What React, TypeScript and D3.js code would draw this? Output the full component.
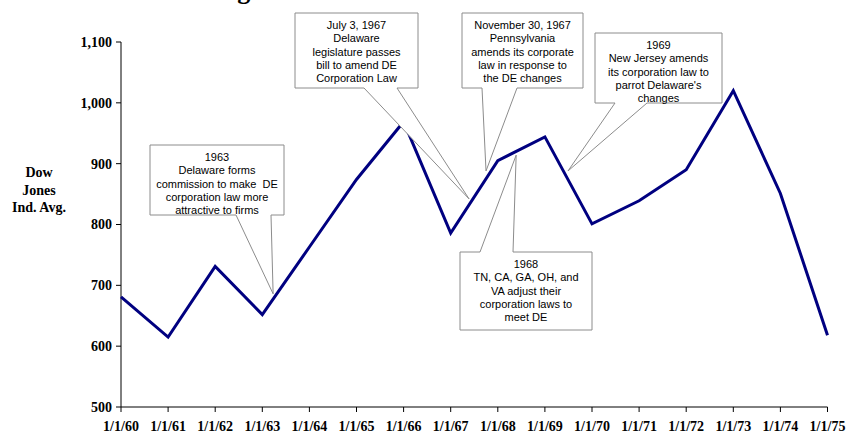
import React from 'react';
import * as d3 from 'd3';

// Dow Jones Industrial Average, first trading day of each year
const dates = ['1/1/60', '1/1/61', '1/1/62', '1/1/63', '1/1/64', '1/1/65', '1/1/66', '1/1/67',
  '1/1/68', '1/1/69', '1/1/70', '1/1/71', '1/1/72', '1/1/73', '1/1/74', '1/1/75'];
const dowValues = [681, 615, 731, 652, 763, 874, 969, 786, 905, 944, 801, 839, 890, 1020, 851, 618];
const yTicks = [500, 600, 700, 800, 900, 1000, 1100];

// annotations: tip given as (year index, index value)
const noteText = [
  ['1963', 'Delaware forms', 'commission to make\u00a0\u00a0DE', 'corporation law more', 'attractive to firms'],
  ['July 3, 1967', 'Delaware', 'legislature passes', 'bill to amend DE', 'Corporation Law'],
  ['November 30, 1967', 'Pennsylvania', 'amends its corporate', 'law in response to', 'the DE changes'],
  ['1969', 'New Jersey amends', 'its corporation law to', "parrot Delaware's", 'changes'],
  ['1968', 'TN, CA, GA, OH, and', 'VA adjust their', 'corporation laws to', 'meet DE'],
];
const noteTipIdx = [3.23, 7.39, 7.75, 9.49, 8.39];
const noteTipVal = [686, 842, 888, 888, 914];

const width = 846;
const height = 437;
const left = 121;
const top = 42;
const bottom = 407;
const right = 827.5;

// box layout [x0, y0, x1, y1, wedgeA, wedgeB, side]
const boxes: [number, number, number, number, number, number, string][] = [
  [150, 145, 284, 215, 236, 271, 'bottom'],
  [295, 13, 418, 88, 364, 397, 'bottom'],
  [462, 13, 583, 88, 482, 517, 'bottom'],
  [595, 33, 722, 103, 615, 647, 'bottom'],
  [460, 252, 592, 330, 480, 513, 'top'],
];

const Callout = ({ box, tip, lines }) => {
  const [x0, y0, x1, y1, a, b, side] = box;
  const p = d3.path();
  if (side === 'bottom') {
    p.moveTo(x0, y0); p.lineTo(x1, y0); p.lineTo(x1, y1); p.lineTo(b, y1);
    p.lineTo(tip[0], tip[1]); p.lineTo(a, y1); p.lineTo(x0, y1); p.closePath();
  } else {
    p.moveTo(x0, y0); p.lineTo(a, y0); p.lineTo(tip[0], tip[1]); p.lineTo(b, y0);
    p.lineTo(x1, y0); p.lineTo(x1, y1); p.lineTo(x0, y1); p.closePath();
  }
  const cx = (x0 + x1) / 2;
  return (
    <g>
      <path d={p.toString()} fill="#fff" stroke="#8c8c8c" strokeWidth={1} />
      <text fontFamily="Liberation Sans, Arial, sans-serif" fontSize={11} fill="#000" textAnchor="middle">
        {lines.map((t, i) => (
          <tspan key={i} x={cx} y={y0 + 16 + i * 13.3}>{t}</tspan>
        ))}
      </text>
    </g>
  );
};

const App = () => {
  const x = d3.scaleLinear().domain([0, dates.length - 1]).range([left, right]);
  const y = d3.scaleLinear().domain([500, 1100]).range([bottom, top]);
  const line = d3.line<number>().x((d, i) => x(i)).y((d) => y(d));
  const serif = 'Liberation Serif, Times New Roman, serif';

  return (
    <svg width={width} height={height} style={{ position: 'fixed', left: 0, top: 0, background: '#fff' }}>
      {/* title sits mostly above the frame, as in the original */}
      <text x={47} y={-1} fontFamily={serif} fontWeight="bold" fontSize={26}>Dow Jones Average</text>

      {/* y axis */}
      <line x1={left} x2={left} y1={top} y2={bottom} stroke="#000" />
      {yTicks.map((t) => (
        <g key={t}>
          <line x1={left - 5} x2={left} y1={y(t)} y2={y(t)} stroke="#000" />
          <text x={left - 9} y={y(t)} dy="0.35em" textAnchor="end" fontFamily={serif} fontWeight="bold" fontSize={14}>
            {d3.format(',')(t)}
          </text>
        </g>
      ))}
      <text fontFamily={serif} fontWeight="bold" fontSize={14} textAnchor="middle">
        <tspan x={39} y={177}>Dow</tspan>
        <tspan x={39} y={195}>Jones</tspan>
        <tspan x={39} y={212}>Ind. Avg.</tspan>
      </text>

      {/* x axis */}
      <line x1={left} x2={right} y1={bottom} y2={bottom} stroke="#000" />
      {dates.map((d, i) => (
        <g key={d}>
          <line x1={x(i)} x2={x(i)} y1={bottom} y2={bottom + 5} stroke="#000" />
          <text x={x(i)} y={431} textAnchor="middle" fontFamily={serif} fontWeight="bold" fontSize={14}>{d}</text>
        </g>
      ))}

      <path d={line(dowValues)} fill="none" stroke="#000080" strokeWidth={3} strokeLinejoin="miter" />

      {boxes.map((b, i) => (
        <Callout key={i} box={b} tip={[x(noteTipIdx[i]), y(noteTipVal[i])]} lines={noteText[i]} />
      ))}
    </svg>
  );
};

export default App;
